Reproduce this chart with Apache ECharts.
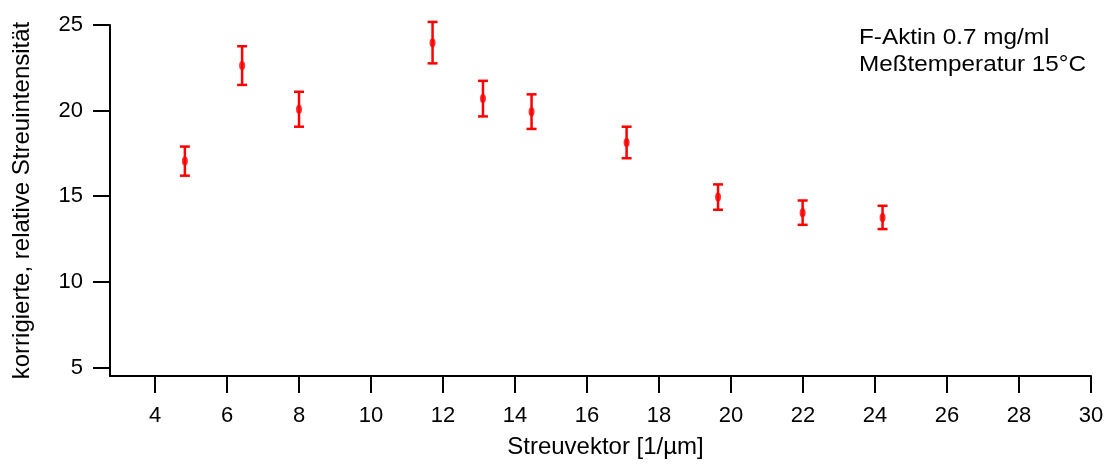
<!DOCTYPE html>
<html>
<head>
<meta charset="utf-8">
<script src="https://cdn.jsdelivr.net/npm/echarts@6/dist/echarts.min.js"></script>
<style>
  html, body { margin: 0; padding: 0; background: #ffffff; }
  #chart { width: 1109px; height: 464px; }
</style>
</head>
<body>
<div id="chart"></div>
<script>
// Scattering vector q [1/µm]
const streuvektor = [4.83, 6.42, 8.00, 11.71, 13.11, 14.46, 17.10, 19.64, 21.99, 24.21];
// corrected relative scattering intensity
const intensitaet = [17.05, 22.63, 20.08, 23.97, 20.70, 19.94, 18.14, 14.95, 14.04, 13.76];
// symmetric error (±)
const fehler = [0.85, 1.13, 1.02, 1.21, 1.04, 1.01, 0.92, 0.74, 0.71, 0.68];

const xTicks = [4, 6, 8, 10, 12, 14, 16, 18, 20, 22, 24, 26, 28, 30];
const yTicks = [5, 10, 15, 20, 25];

const legendLines = ['F-Aktin 0.7 mg/ml', 'Meßtemperatur 15°C'];

const punkte = streuvektor.map((q, i) => [q, intensitaet[i]]);
const fehlerbalken = streuvektor.map((q, i) => [q, intensitaet[i] - fehler[i], intensitaet[i] + fehler[i]]);

const FONT = '"Liberation Sans", Arial, Helvetica, sans-serif';
const RED = '#ff0000';

const chart = echarts.init(document.getElementById('chart'), null, { renderer: 'canvas' });

const axisCommon = {
  axisLine: { show: true, onZero: false, lineStyle: { color: '#000', width: 2 } },
  axisTick: { show: true, inside: false, length: 17, lineStyle: { color: '#000', width: 2 } },
  splitLine: { show: false },
  minorTick: { show: false }
};

chart.setOption({
  animation: false,
  backgroundColor: '#ffffff',
  grid: { left: 110, right: 18, top: 25, bottom: 87, containLabel: false },
  xAxis: Object.assign({}, axisCommon, {
    type: 'value',
    min: 2.75,
    max: 30,
    name: 'Streuvektor [1/µm]',
    nameLocation: 'middle',
    nameGap: 59,
    nameTextStyle: { fontFamily: FONT, fontSize: 24, color: '#000', padding: [0, 0, 0, 10] },
    axisTick: Object.assign({}, axisCommon.axisTick, { customValues: xTicks }),
    axisLabel: { customValues: xTicks, margin: 29, fontFamily: FONT, fontSize: 22, color: '#000' }
  }),
  yAxis: Object.assign({}, axisCommon, {
    type: 'value',
    min: 4.5,
    max: 25,
    name: 'korrigierte, relative Streuintensität',
    nameLocation: 'middle',
    nameGap: 76,
    nameTextStyle: { fontFamily: FONT, fontSize: 24, color: '#000' },
    axisTick: Object.assign({}, axisCommon.axisTick, { customValues: yTicks }),
    axisLabel: { customValues: yTicks, margin: 27, fontFamily: FONT, fontSize: 22, color: '#000' }
  }),
  graphic: [{
    type: 'text',
    left: 859,
    top: 25,
    scaleX: 1.13,
    style: {
      text: legendLines.join('\n'),
      font: '21.5px ' + FONT,
      lineHeight: 26.5,
      fill: '#000'
    }
  }],
  series: [
    {
      type: 'custom',
      name: 'Fehler',
      clip: false,
      data: fehlerbalken,
      encode: { x: 0, y: [1, 2] },
      renderItem: function (params, api) {
        const q = api.value(0);
        const lo = api.coord([q, api.value(1)]);
        const hi = api.coord([q, api.value(2)]);
        const half = 5;
        const style = { stroke: RED, lineWidth: 2.5, fill: null };
        return {
          type: 'group',
          children: [
            { type: 'line', shape: { x1: lo[0], y1: lo[1], x2: hi[0], y2: hi[1] }, style: style },
            { type: 'line', shape: { x1: hi[0] - half, y1: hi[1], x2: hi[0] + half, y2: hi[1] }, style: style },
            { type: 'line', shape: { x1: lo[0] - half, y1: lo[1], x2: lo[0] + half, y2: lo[1] }, style: style }
          ]
        };
      },
      z: 2
    },
    {
      type: 'scatter',
      name: 'Intensität',
      data: punkte,
      symbol: 'circle',
      symbolSize: [6, 9],
      itemStyle: { color: RED },
      z: 3
    }
  ]
});
</script>
</body>
</html>
